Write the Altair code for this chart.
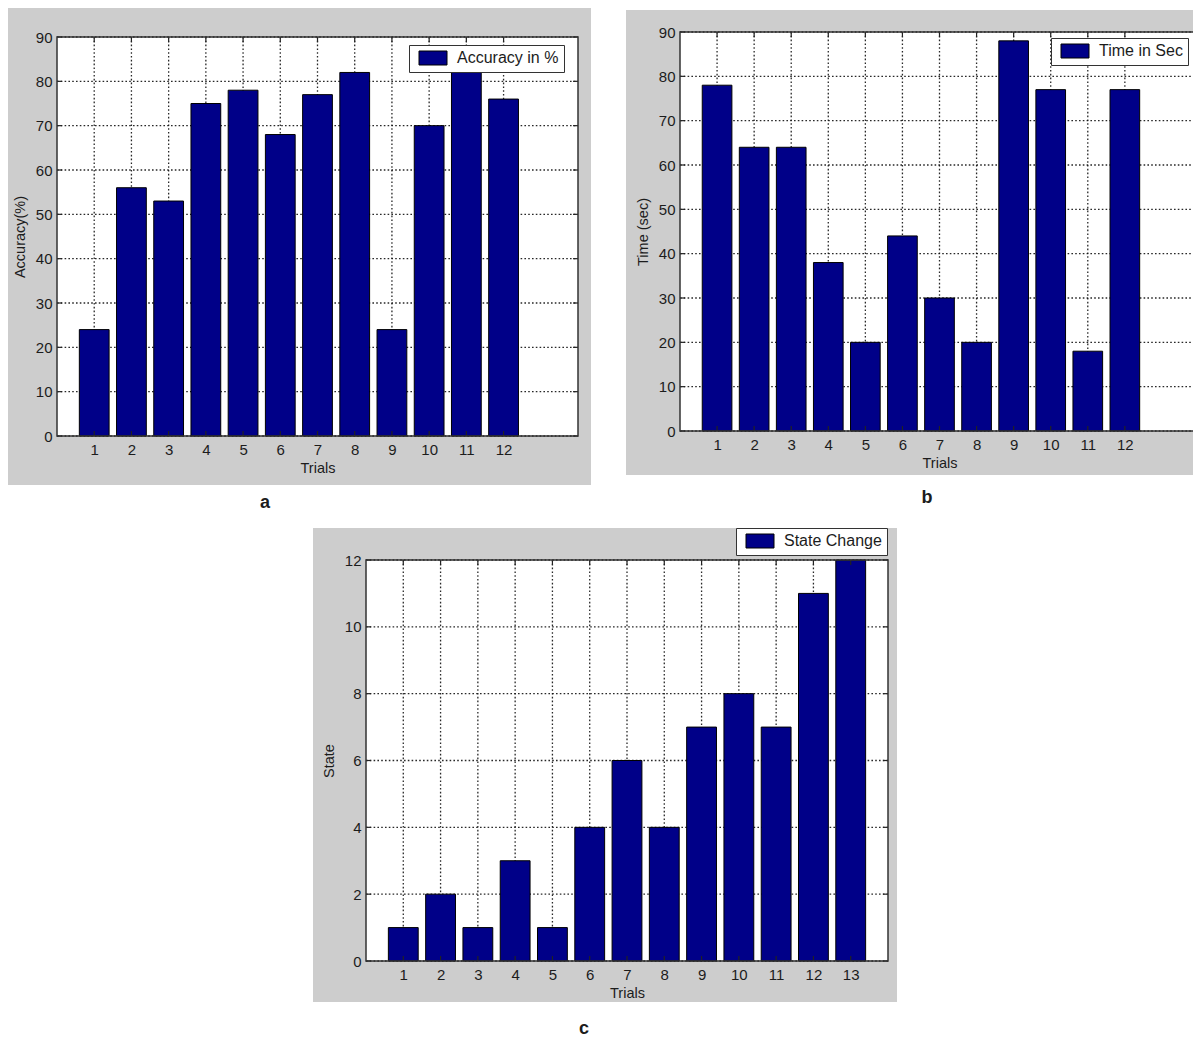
import altair as alt
import pandas as pd

# ---------------- data ----------------
trials_a = [1, 2, 3, 4, 5, 6, 7, 8, 9, 10, 11, 12]
accuracy = [24, 56, 53, 75, 78, 68, 77, 82, 24, 70, 83, 76]
yticks_a = [0, 10, 20, 30, 40, 50, 60, 70, 80, 90]

trials_b = [1, 2, 3, 4, 5, 6, 7, 8, 9, 10, 11, 12]
time_sec = [78, 64, 64, 38, 20, 44, 30, 20, 88, 77, 18, 77]
yticks_b = [0, 10, 20, 30, 40, 50, 60, 70, 80, 90]

trials_c = [1, 2, 3, 4, 5, 6, 7, 8, 9, 10, 11, 12, 13]
state = [1, 2, 1, 3, 1, 4, 6, 4, 7, 8, 7, 11, 12]
yticks_c = [0, 2, 4, 6, 8, 10, 12]

series_names = ["Accuracy in %", "Time in Sec", "State Change"]
y_titles = ["Accuracy(%)", "Time (sec)", "State"]
x_title = "Trials"
panel_letters = ["a", "b", "c"]

# ---------------- style / layout ----------------
FONT = "Liberation Sans"
BAR = "#000088"
FRAME = "#CDCDCD"
TXT = "#1c1c1c"
VIEW_W, VIEW_H = 1142, 929

GEO = {
    "a": dict(plot=(0, 521, 5, 404), frame=(-49, 534, -24, 453),
              legend=(352, 13), letter=(208, 471)),
    "b": dict(plot=(623, 1142, 0, 399), frame=(569, 1144, -22, 443),
              legend=(994, 6), letter=(870, 466)),
    "c": dict(plot=(309, 831, 528, 929), frame=(256, 840, 496, 970),
              legend=(679, 496), letter=(527, 997)),
}


def panel(trials, values, ticks, ymax, name, ytitle, letter, geo):
    x0, x1, y0, y1 = geo["plot"]
    fx1, fx2, fy1, fy2 = geo["frame"]
    one = pd.DataFrame({"k": [0]})
    xt = pd.DataFrame({"t": trials})
    yt = pd.DataFrame({"t": ticks})

    xscale = alt.Scale(domain=[0, 14], range=[x0, x1], nice=False, zero=False)
    yscale = alt.Scale(domain=[0, ymax], range=[y1, y0], nice=False, zero=False)
    xaxis = alt.Axis(orient="bottom", offset=y1 - VIEW_H, values=trials, format="d",
                     title=x_title, grid=False, domain=False, ticks=False,
                     labelFlush=False, labelOverlap=False,
                     labelFont=FONT, labelFontSize=15, labelColor=TXT, labelPadding=6,
                     titleFont=FONT, titleFontSize=14.5, titleColor=TXT,
                     titleFontWeight="normal", titlePadding=4, zindex=1)
    yaxis = alt.Axis(orient="left", offset=-x0, values=ticks, format="d",
                     title=ytitle, grid=False, domain=False, ticks=False,
                     labelFlush=False, labelOverlap=False,
                     labelFont=FONT, labelFontSize=15, labelColor=TXT, labelPadding=5,
                     titleFont=FONT, titleFontSize=14.5, titleColor=TXT,
                     titleFontWeight="normal", titlePadding=8, zindex=1)
    X = alt.X("t:Q", scale=xscale, axis=xaxis)
    Y = alt.Y("t:Q", scale=yscale, axis=yaxis)

    frame_l = alt.Chart(one).mark_rect(color=FRAME).encode(
        x=alt.value(fx1), x2=alt.value(fx2), y=alt.value(fy1), y2=alt.value(fy2))
    bg_l = alt.Chart(one).mark_rect(color="white").encode(
        x=alt.value(x0), x2=alt.value(x1), y=alt.value(y0), y2=alt.value(y1))

    grid_style = dict(strokeDash=[1.6, 2.2], color="#111111", strokeWidth=1.3, opacity=0.9)
    ygrid = alt.Chart(yt).mark_rule(**grid_style).encode(
        y=Y, x=alt.value(x0), x2=alt.value(x1))
    xgrid = alt.Chart(xt).mark_rule(**grid_style).encode(
        x=X, y=alt.value(y0), y2=alt.value(y1))

    df = pd.DataFrame({"trial": trials, "value": values,
                       "series": [name] * len(trials)})
    bars = alt.Chart(df).transform_calculate(
        lo="datum.trial - 0.4", hi="datum.trial + 0.4", base="0"
    ).mark_bar(stroke="black", strokeWidth=1, opacity=1).encode(
        x=alt.X("lo:Q", scale=xscale, axis=xaxis),
        x2="hi:Q",
        y=alt.Y("value:Q", scale=yscale, axis=yaxis),
        y2="base:Q",
        color=alt.Color("series:N",
                        scale=alt.Scale(domain=[name], range=[BAR]),
                        legend=alt.Legend(
                            title=None, orient="none",
                            legendX=geo["legend"][0], legendY=geo["legend"][1],
                            fillColor="white", strokeColor="#333333",
                            padding=5, cornerRadius=0,
                            symbolType="M-1,-1H3V1H-1Z", symbolSize=196,
                            symbolStrokeColor="black", symbolStrokeWidth=1,
                            symbolOpacity=1, symbolOffset=4,
                            labelFont=FONT, labelFontSize=16, labelColor=TXT,
                            labelOffset=23, labelLimit=400)),
    )

    tick_style = dict(color="#222222", strokeWidth=1.2)
    tk_bottom = alt.Chart(xt).mark_rule(**tick_style).encode(
        x=X, y=alt.value(y1 - 5), y2=alt.value(y1))
    tk_top = alt.Chart(xt).mark_rule(**tick_style).encode(
        x=X, y=alt.value(y0), y2=alt.value(y0 + 5))
    tk_left = alt.Chart(yt).mark_rule(**tick_style).encode(
        y=Y, x=alt.value(x0), x2=alt.value(x0 + 5))
    tk_right = alt.Chart(yt).mark_rule(**tick_style).encode(
        y=Y, x=alt.value(x1 - 5), x2=alt.value(x1))

    border = alt.Chart(one).mark_rect(fillOpacity=0, stroke="#333333",
                                      strokeWidth=1.5).encode(
        x=alt.value(x0), x2=alt.value(x1), y=alt.value(y0), y2=alt.value(y1))
    lab = alt.Chart(pd.DataFrame({"lab": [letter]})).mark_text(
        font=FONT, fontSize=18, fontWeight="bold", color=TXT,
        align="center", baseline="middle").encode(
        text="lab:N", x=alt.value(geo["letter"][0]), y=alt.value(geo["letter"][1]))

    return alt.layer(frame_l, bg_l, ygrid, xgrid, bars,
                     tk_bottom, tk_top, tk_left, tk_right, border, lab)


pa = panel(trials_a, accuracy, yticks_a, 90, series_names[0], y_titles[0],
           panel_letters[0], GEO["a"])
pb = panel(trials_b, time_sec, yticks_b, 90, series_names[1], y_titles[1],
           panel_letters[1], GEO["b"])
pc = panel(trials_c, state, yticks_c, 12, series_names[2], y_titles[2],
           panel_letters[2], GEO["c"])

chart = alt.layer(pa, pb, pc).resolve_scale(
    x="independent", y="independent", color="independent"
).resolve_axis(x="independent", y="independent").resolve_legend(
    color="independent"
).properties(
    width=VIEW_W, height=VIEW_H, background="white",
    padding={"left": 0, "top": 0, "right": -8, "bottom": 0},
).configure_view(strokeWidth=0)

chart.save("out.html", embed_options={"renderer": "svg", "actions": False})
